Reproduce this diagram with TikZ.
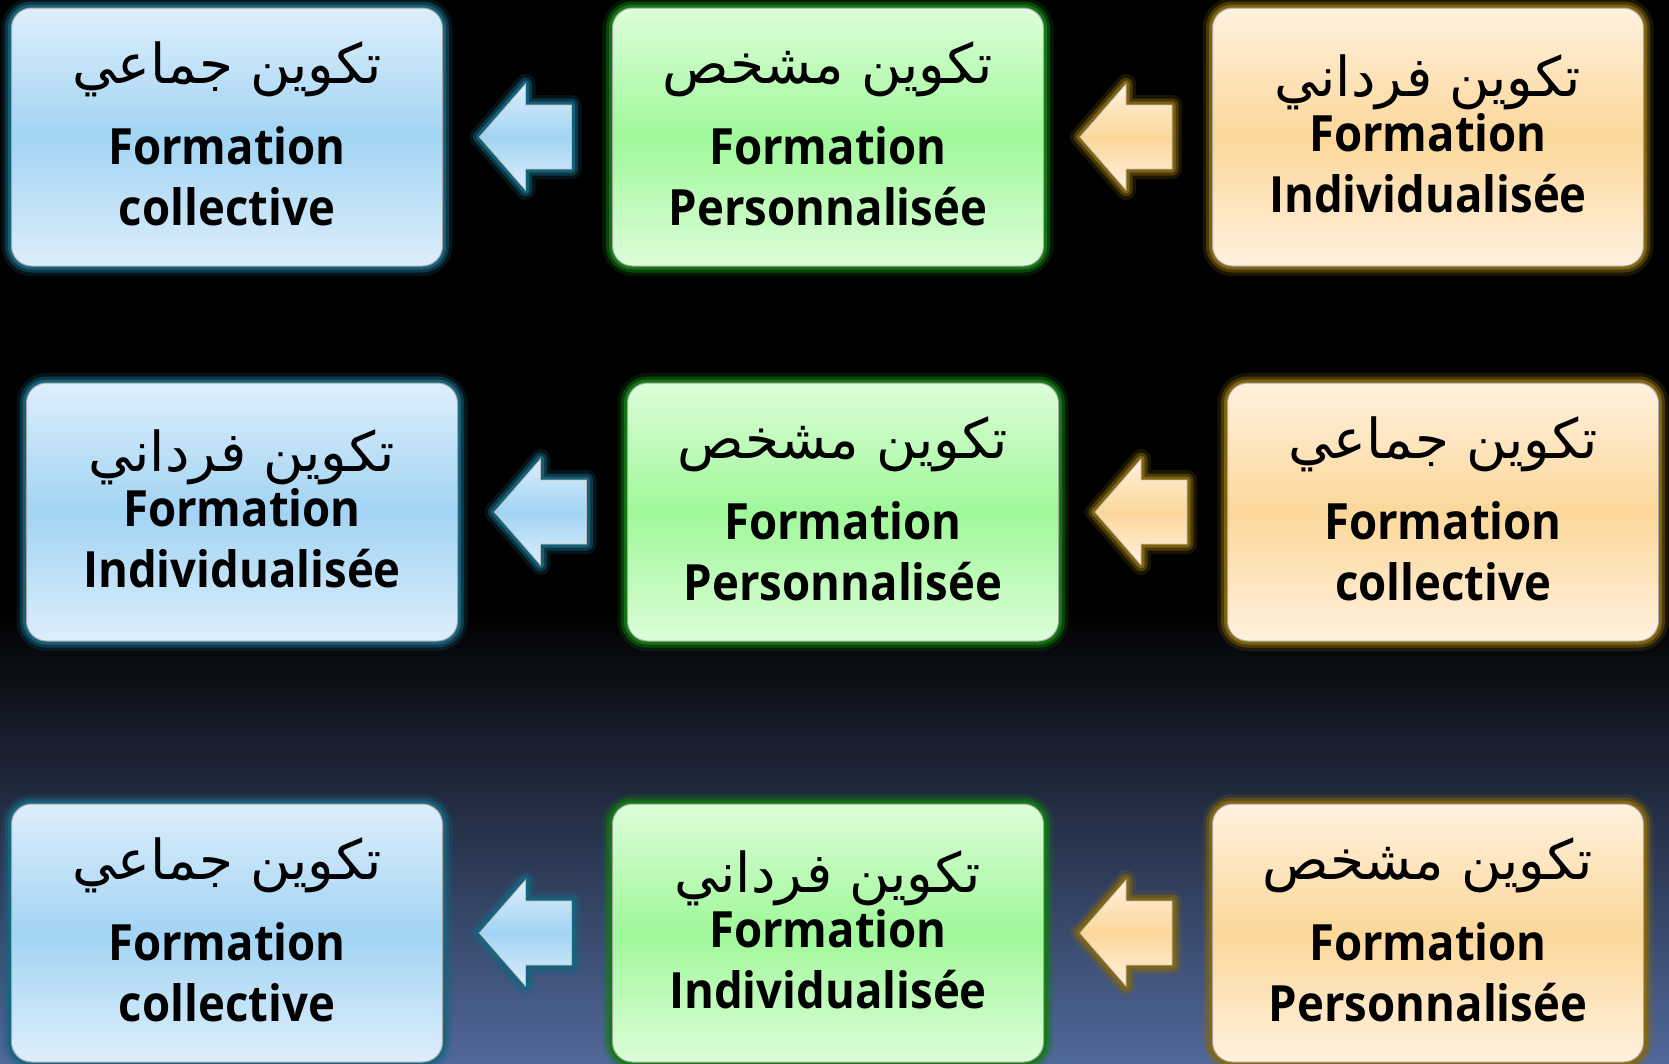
\documentclass[tikz,border=0pt]{standalone}
\usepackage{fontspec}
\TeXXeTstate=1
\newfontfamily\arabicfont[Script=Arabic]{DejaVu Sans}
\newfontfamily\latinfont[FakeStretch=0.91]{Open Sans}
\usetikzlibrary{calc}
\definecolor{blueTop}{HTML}{DDEEFB}
\definecolor{blueMid}{HTML}{A2D4F4}
\definecolor{blueGlow}{HTML}{17657F}
\definecolor{greenTop}{HTML}{DCFDD8}
\definecolor{greenMid}{HTML}{A0F89A}
\definecolor{greenGlow}{HTML}{137A13}
\definecolor{orTop}{HTML}{FFF1DE}
\definecolor{orMid}{HTML}{FCD79A}
\definecolor{orGlow}{HTML}{85670F}
\definecolor{bgBot}{HTML}{50689A}
\tikzset{
  glowing/.style={
    preaction={draw=#1, line width=20pt, draw opacity=0.2, line join=round},
    preaction={draw=#1, line width=13pt, draw opacity=0.45, line join=round},
    preaction={draw=#1, line width=7pt, draw opacity=0.9, line join=round}},
  box/.style={rectangle, rounded corners=20pt, minimum width=431pt,
    minimum height=258pt, inner sep=0pt, draw=gray!70, line width=1pt},
  bluebox/.style={box, glowing=blueGlow, top color=blueTop, bottom color=blueTop, middle color=blueMid},
  greenbox/.style={box, glowing=greenGlow, top color=greenTop, bottom color=greenTop, middle color=greenMid},
  orbox/.style={box, glowing=orGlow, top color=orTop, bottom color=orTop, middle color=orMid},
  bluearrow/.style={glowing=blueGlow, top color=blueTop, bottom color=blueTop, middle color=blueMid, draw=gray!50, line width=0.8pt},
  orarrow/.style={glowing=orGlow, top color=orTop, bottom color=orTop, middle color=orMid, draw=gray!50, line width=0.8pt},
  ar/.style={anchor=base, inner sep=0pt, font=\arabicfont\fontsize{55}{60}\selectfont},
  lat/.style={anchor=base, inner sep=0pt, font=\latinfont\bfseries\fontsize{50}{60}\selectfont},
}
\begin{document}
\begin{tikzpicture}[x=1pt,y=-1pt]
\useasboundingbox (0,0) rectangle (1669,1063);
\fill[black] (0,0) rectangle (1669,1063);
\shade[top color=black, bottom color=bgBot] (0,610) rectangle (1669,1063);

% Row 1
\node[bluebox]  (b1) at (227,137) {};
\node[greenbox] (g1) at (828,137) {};
\node[orbox]    (o1) at (1428,137) {};
% Row 2
\node[bluebox]  (b2) at (242,512) {};
\node[greenbox] (g2) at (843,512) {};
\node[orbox]    (o2) at (1443,512) {};
% Row 3
\node[bluebox]  (b3) at (227,933) {};
\node[greenbox] (g3) at (828,933) {};
\node[orbox]    (o3) at (1428,933) {};

% arrows
\coordinate (a1) at ($(b1.east)!0.5!(g1.west)+(-2,0)$);
\coordinate (a2) at ($(g1.east)!0.5!(o1.west)+(-2,0)$);
\coordinate (a3) at ($(b2.east)!0.5!(g2.west)+(-2,0)$);
\coordinate (a4) at ($(g2.east)!0.5!(o2.west)+(-2,0)$);
\coordinate (a5) at ($(b3.east)!0.5!(g3.west)+(-2,0)$);
\coordinate (a6) at ($(g3.east)!0.5!(o3.west)+(-2,0)$);
\path[bluearrow] ($(a1)+(-46,0)$) -- ++(46,-53) -- ++(0,21) -- ++(46,0) -- ++(0,64) -- ++(-46,0) -- ++(0,21) -- cycle;
\path[orarrow]   ($(a2)+(-46,0)$) -- ++(46,-53) -- ++(0,21) -- ++(46,0) -- ++(0,64) -- ++(-46,0) -- ++(0,21) -- cycle;
\path[bluearrow] ($(a3)+(-46,0)$) -- ++(46,-53) -- ++(0,21) -- ++(46,0) -- ++(0,64) -- ++(-46,0) -- ++(0,21) -- cycle;
\path[orarrow]   ($(a4)+(-46,0)$) -- ++(46,-53) -- ++(0,21) -- ++(46,0) -- ++(0,64) -- ++(-46,0) -- ++(0,21) -- cycle;
\path[bluearrow] ($(a5)+(-46,0)$) -- ++(46,-53) -- ++(0,21) -- ++(46,0) -- ++(0,64) -- ++(-46,0) -- ++(0,21) -- cycle;
\path[orarrow]   ($(a6)+(-46,0)$) -- ++(46,-53) -- ++(0,21) -- ++(46,0) -- ++(0,64) -- ++(-46,0) -- ++(0,21) -- cycle;

% texts row 1
\node[ar]  (b1a) at ([yshift=-76pt]b1.north) {\beginR تكوين جماعي\endR};
\node[lat] (b1b) at ([yshift=-157pt]b1.north) {Formation};
\node[lat] (b1c) at ([yshift=-218pt]b1.north) {collective};
\node[ar]  (g1a) at ([yshift=-76pt]g1.north) {\beginR تكوين مشخص\endR};
\node[lat] (g1b) at ([yshift=-157pt]g1.north) {Formation};
\node[lat] (g1c) at ([yshift=-218pt]g1.north) {Personnalisée};
\node[ar]  (o1a) at ([yshift=-89pt]o1.north) {\beginR تكوين فرداني\endR};
\node[lat] (o1b) at ([yshift=-144pt]o1.north) {Formation};
\node[lat] (o1c) at ([yshift=-205pt]o1.north) {Individualisée};
% texts row 2
\node[ar]  (b2a) at ([yshift=-89pt]b2.north) {\beginR تكوين فرداني\endR};
\node[lat] (b2b) at ([yshift=-144pt]b2.north) {Formation};
\node[lat] (b2c) at ([yshift=-205pt]b2.north) {Individualisée};
\node[ar]  (g2a) at ([yshift=-76pt]g2.north) {\beginR تكوين مشخص\endR};
\node[lat] (g2b) at ([yshift=-157pt]g2.north) {Formation};
\node[lat] (g2c) at ([yshift=-218pt]g2.north) {Personnalisée};
\node[ar]  (o2a) at ([yshift=-76pt]o2.north) {\beginR تكوين جماعي\endR};
\node[lat] (o2b) at ([yshift=-157pt]o2.north) {Formation};
\node[lat] (o2c) at ([yshift=-218pt]o2.north) {collective};
% texts row 3
\node[ar]  (b3a) at ([yshift=-76pt]b3.north) {\beginR تكوين جماعي\endR};
\node[lat] (b3b) at ([yshift=-157pt]b3.north) {Formation};
\node[lat] (b3c) at ([yshift=-218pt]b3.north) {collective};
\node[ar]  (g3a) at ([yshift=-89pt]g3.north) {\beginR تكوين فرداني\endR};
\node[lat] (g3b) at ([yshift=-144pt]g3.north) {Formation};
\node[lat] (g3c) at ([yshift=-205pt]g3.north) {Individualisée};
\node[ar]  (o3a) at ([yshift=-76pt]o3.north) {\beginR تكوين مشخص\endR};
\node[lat] (o3b) at ([yshift=-157pt]o3.north) {Formation};
\node[lat] (o3c) at ([yshift=-218pt]o3.north) {Personnalisée};
\end{tikzpicture}
\end{document}
